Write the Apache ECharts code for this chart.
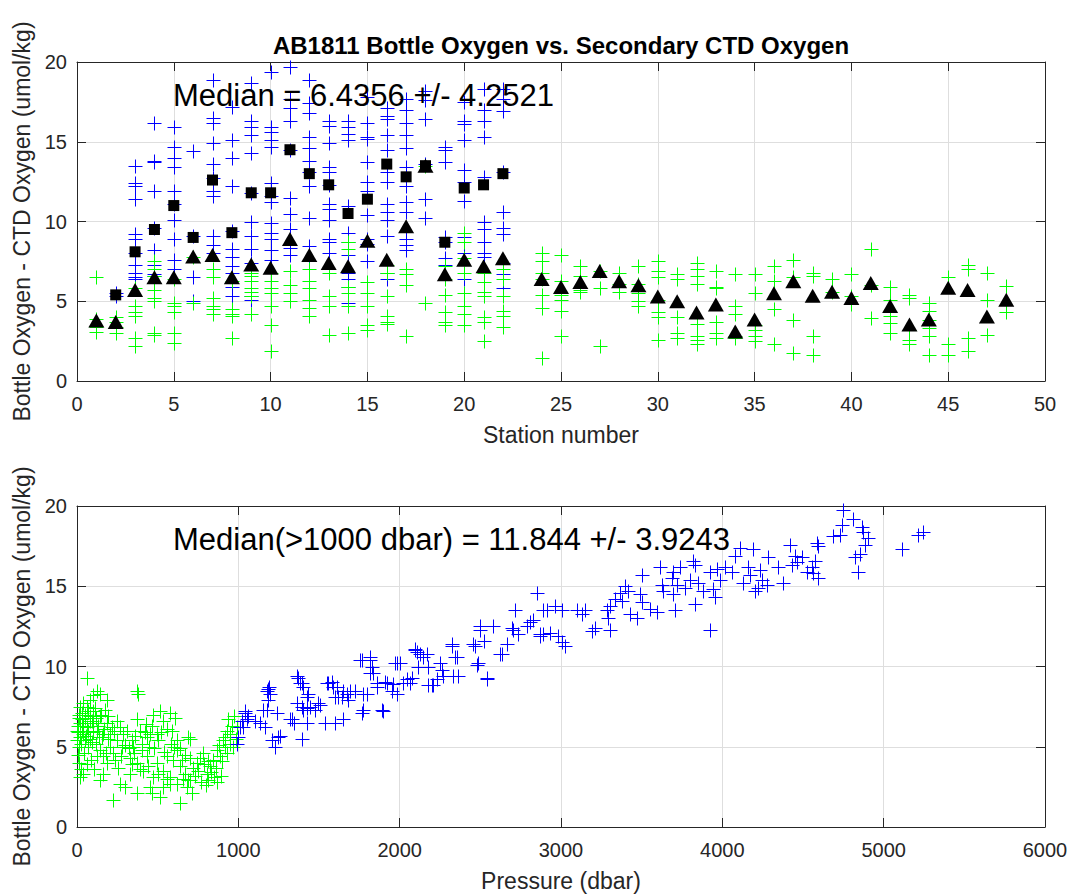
<!DOCTYPE html>
<html><head><meta charset="utf-8">
<script src="https://cdn.jsdelivr.net/npm/echarts/dist/echarts.min.js"></script>
<style>html,body{margin:0;padding:0;background:#fff}#c{width:1072px;height:894px}</style>
</head><body><div id="c"></div><script>
// ---------------- DATA ----------------
const titleText = 'AB1811 Bottle Oxygen vs. Secondary CTD Oxygen';
const topMedianText = 'Median = 6.4356 +/- 4.2521';
const bottomMedianText = 'Median(>1000 dbar) = 11.844 +/- 3.9243';
const yLabel = 'Bottle Oxygen - CTD Oxygen (umol/kg)';
const topXLabel = 'Station number';
const bottomXLabel = 'Pressure (dbar)';

const stations = [1,2,3,4,5,6,7,8,9,10,11,12,13,14,15,16,17,18,19,20,21,22,24,25,26,27,28,29,30,31,32,33,34,35,36,37,38,39,40,41,42,43,44,45,46,47,48];

// deep bottles (blue) per station, parallel to stations
const stationBlue = [
  [], [5.5,5.3],
  [13.5,12.4,12.2,11.4,9.2,8.9,8.0,7.3,6.8,6.5,6.4],
  [16.2,13.8,13.7,11.9,9.6,8.2,7.3,6.7,6.6],
  [15.9,14.7,14.0,13.4,11.9,11.1,10.1,8.9,7.6,7.0],
  [14.4,9.1,6.5,5.0],
  [18.9,16.5,16.2,14.9,13.6,12.7,11.9,11.6,9.1,8.5,8.0],
  [17.2,15.1,14.0,12.2,9.4,8.3,7.8,7.2,6.8,5.9,5.3],
  [18.7,16.3,15.9,15.4,14.3,11.8,10.0,9.1,8.3,7.4,5.3,5.1],
  [19.4,15.9,15.6,15.1,14.7,12.4,11.6,11.2,9.9,9.3,8.9,8.2,7.6],
  [19.7,17.7,17.1,16.3,14.5,11.5,10.5,9.5,8.35,7.9],
  [18.9,17.4,16.8,15.3,14.6,13.8,13.1,12.2,10.2,8.45,7.5],
  [16.3,16.0,14.9,13.4,13.1,12.3,11.1,10.8,10.1,8.9,8.7,8.0],
  [16.3,15.9,15.5,15.1,11.0,9.3,8.7,7.9,6.8,6.4,5.9,4.9],
  [17.8,16.2,15.3,15.2,13.7,12.5,11.9,10.4,8.9,8.6,7.5],
  [17.1,16.6,16.4,15.4,14.5,13.1,12.5,11.1,10.6,10.1,9.1,6.8,6.4],
  [17.7,17.0,16.2,15.4,14.6,13.4,12.2,11.2,10.6,8.9,8.5,8.2],
  [18.2,17.6,16.4,13.6,11.4,10.2],
  [14.7,14.5,13.7,9.0,8.7,7.7,7.3],
  [17.5,16.3,16.1,15.1,13.2,12.5,11.3,9.0,8.0,6.4],
  [18.3,17.0,16.3,15.3,12.8,10.0,9.5,8.7,8.0,7.8],
  [18.3,17.7,16.9,13.1,10.6,9.6,9.2,7.4,6.7,5.8],
  [],[],[],[],[],[],[],[],[],[],[],[],[],[],[],[],[],[],[],[],[],[],[],[],[]
];

// shallow bottles (green) per station, parallel to stations
const stationGreen = [
  [6.5,3.9,3.4,3.1], [4.0,3.7,3.4,3.0], [5.8,4.7,4.3,4.1,2.7,2.2],
  [7.5,7.0,6.6,5.7,5.2,5.0,3.0,2.9], [6.4,4.9,4.7,4.3,3.0,2.4], [7.8,4.9],
  [7.0,6.5,5.2,4.7,4.5,4.2], [6.3,4.5,4.2,4.1,2.7], [6.8,6.6,6.3,5.8,5.6,5.3,4.2],
  [6.8,6.3,5.8,5.5,4.7,3.5,1.9], [6.9,6.0,5.5,5.0], [7.0,6.3,5.8,5.1,4.6,4.1],
  [6.8,5.3,4.7,2.9], [8.7,8.3,5.9,5.5,4.7,3.0], [6.2,5.5,4.7,3.5,3.2],
  [7.3,6.8,5.3,4.1,3.7,3.6], [7.0,6.7,6.0,2.8], [13.5,4.9],
  [7.2,6.4,5.4,4.3,3.7,3.5], [9.3,8.7,7.7,6.8,5.5,4.7,4.2,3.5], [6.8,6.2,5.6,5.3,4.0,3.7,2.5],
  [7.0,6.4,5.3,4.4,4.1,3.4],
  [8.0,7.5,6.8,6.4,5.4,4.6,1.45], [7.9,6.3,5.4,5.1,4.4,2.8], [7.2,6.6,5.7,5.6],
  [6.9,5.8,2.2], [6.8,6.1,5.6], [7.2,6.1,5.5,5.0,4.7], [7.5,6.9,6.5,5.1,4.3,4.0,2.6],
  [6.7,6.4,4.0,3.0,2.7], [7.4,7.0,6.6,6.1,3.6,2.8,2.6,2.3], [6.9,5.9,5.8,3.7,3.0,2.7],
  [6.7,4.7,4.2,2.8,2.7], [6.7,5.5,3.5,3.2,2.8,2.5], [7.2,6.3,4.5,2.3],
  [7.6,6.5,3.85,1.75], [6.8,6.6,2.8,1.6], [6.4,5.6], [6.7,5.3,4.8],
  [8.25,6.0,3.95], [5.9,5.1,4.05,3.65,3.0], [5.4,5.2,3.2,2.6,2.3],
  [4.9,4.4,3.85,3.3,2.8,1.65], [6.5,2.3,1.65], [7.3,7.0,2.7,1.9],
  [6.8,5.1,2.9], [5.95,4.3]
];

// black squares (deep) and triangles (shallow) per station
const squareStations = [2,3,4,5,6,7,8,9,10,11,12,13,14,15,16,17,18,19,20,21,22];
const squareValues = [5.4,8.1,9.5,11.0,9.0,12.6,9.3,11.8,11.8,14.5,13.0,12.3,10.5,11.4,13.6,12.8,13.5,8.7,12.1,12.3,13.0];
const triangleValues = [3.8,3.7,5.7,6.5,6.5,7.8,7.9,6.5,7.3,7.1,8.9,7.9,7.4,7.2,8.8,7.6,9.7,13.5,6.7,7.6,7.2,7.7,
  6.4,5.9,6.2,6.9,6.25,6.0,5.3,5.0,4.3,4.8,3.1,3.85,5.5,6.25,5.35,5.6,5.2,6.15,4.7,3.55,3.85,5.85,5.7,4.05,5.1];

// bottom panel: [pressure dbar, difference]
const shallowPairs = [
  [60,9.3],[122,8.5],[143,8.3],[100,8.2],[184,7.9],[370,8.5],[380,8.3],[576,7.1],[607,6.8],[514,7.2],[473,7.0],[463,6.3],
  [494,5.8],[504,5.4],[690,5.6],[700,5.5],[432,5.6],[452,5.8],[370,6.7],[390,6.0],[339,5.4],[349,5.0],[267,6.25],[287,5.8],
  [246,5.4],[205,5.0],[225,4.6],[163,4.4],[184,4.0],[29,6.7],[39,6.3],[0,6.0],[19,5.6],[50,5.4],[70,5.0],[10,5.0],[81,6.9],
  [101,6.5],[122,6.0],[153,5.6],[60,7.5],[39,7.7],[81,7.9],[101,7.2],[143,6.9],[184,6.5],[205,5.8],[5,6.3],[0,5.4],[19,7.5],[29,7.1],
  [19,3.1],[39,3.3],[143,2.9],[163,3.3],[225,1.7],[267,2.7],[298,2.5],[370,2.1],[452,2.5],[463,2.1],[514,1.9],[535,2.5],
  [576,2.7],[638,1.5],[680,2.5],[711,2.1],[700,2.9],[370,4.0],[390,3.6],[329,3.3],[432,4.4],[494,4.0],[556,4.4],[597,4.2],
  [618,4.8],[638,3.8],[669,3.3],[690,2.9],[742,4.0],[783,4.6],[804,3.3],[814,2.9],[824,3.8],[866,4.8],[886,4.4],[907,5.4],
  [928,6.0],[938,6.7],[948,5.8],[969,5.0],[928,4.6],[473,3.1],[535,3.5],[576,3.1],[618,2.7],
  [10,7.0],[20,6.5],[30,6.0],[40,5.8],[50,6.8],[60,6.2],[70,7.2],[80,5.5],[90,6.6],[100,5.9],[110,7.4],[120,5.2],[130,6.3],
  [140,4.8],[150,7.0],[160,5.8],[170,6.1],[180,4.6],[195,5.5],[215,6.2],[235,4.2],[255,3.7],[275,4.4],[300,5.1],[320,4.9],
  [340,3.9],[360,5.7],[400,4.8],[410,3.5],[420,5.9],[440,3.8],[480,4.9],[500,3.3],[520,5.9],[540,4.7],[560,3.0],[590,6.0],
  [620,5.4],[650,4.2],[660,3.0],[720,3.7],[730,3.2],[760,4.3],[790,3.9],[800,2.6],[840,4.2],[850,3.1],[870,2.8],[900,4.1],
  [915,5.0],[960,6.3],[975,6.9],[985,5.5],[5,4.5],[15,4.0],[25,3.6],[45,4.6],[65,3.9],[85,4.2],[105,3.6],[125,4.4],[8,5.9],
  [12,6.8],[22,5.2],[33,6.5],[48,7.0],[55,5.7],[68,6.0],[78,6.6],[92,5.3],[115,6.8],[135,5.6],[175,7.3],[195,6.9],[230,6.0],
  [250,6.6],[280,5.0],[310,6.0],[330,4.3],[355,4.6],[405,5.2],[425,6.4],[445,5.0],[530,6.6],[560,6.1],[580,5.2],[600,5.0],
  [640,4.9],[670,4.5],[700,4.3],[750,3.5],[770,2.8],[810,4.1],[830,3.4],[860,3.7],[880,5.1],[895,3.2],[920,5.6],[950,5.2],[990,6.2]
];
const deepPairs = [
  [990,5.2],[1000,5.6],[1010,6.25],[1020,6.6],[1031,6.25],[1041,7.2],[1052,6.7],[1041,7.1],[1060,6.9],[1103,6.6],[1134,6.5],
  [1155,7.3],[1165,6.25],[1176,8.5],[1186,8.6],[1196,8.3],[1190,8.7],[1186,7.9],[1176,7.3],[1207,5.4],[1227,5.0],[1238,7.1],
  [1248,5.6],[1258,5.7],[1320,6.7],[1330,6.7],[1345,6.5],[1362,7.7],[1362,9.4],[1372,9.3],[1382,8.95],[1393,8.95],[1400,8.7],
  [1393,7.5],[1403,7.3],[1424,8.1],[1434,8.3],[1424,7.4],[1424,6.5],[1393,5.5],[1445,7.5],[1475,7.3],[1496,7.7],[1506,7.6],
  [1537,6.5],[1548,8.95],[1558,8.95],[1579,9.05],[1589,8.7],[1599,8.1],[1599,6.5],[1610,8.75],[1620,8.1],[1640,8.1],[1651,6.7],
  [1651,8.5],[1672,8.3],[1680,7.9],[1692,8.5],[1723,8.5],[1754,10.4],[1764,7.1],[1775,7.3],[1764,10.4],[1775,8.3],[1795,8.3],
  [1816,10.4],[1816,10.6],[1826,10.0],[1816,9.6],[1837,9.6],[1857,8.75],[1857,9.0],[1888,7.3],[1899,7.2],[1909,9.05],[1919,8.95],
  [1950,8.5],[1960,8.9],[1971,10.2],[1981,10.2],[1981,8.3],[2000,10.2],[2023,8.95],[2043,9.2],[2064,9.0],[2074,9.3],[2095,11.1],
  [2095,11.0],[2105,10.9],[2116,10.0],[2126,10.8],[2147,10.6],[2167,10.8],[2178,10.0],[2178,8.85],[2198,8.85],[2209,8.85],
  [2230,9.2],[2250,10.2],[2260,9.8],[2270,9.4],[2322,11.3],[2322,11.4],[2332,9.4],[2343,10.6],[2353,10.6],[2364,9.4],[2457,11.4],
  [2467,11.3],[2477,10.1],[2488,10.2],[2498,12.3],[2498,12.5],[2520,11.6],[2539,9.3],[2539,9.2],[2581,12.5],[2622,10.8],
  [2632,10.8],[2663,11.4],[2694,12.4],[2705,12.3],[2715,13.5],[2736,12.0],[2787,12.5],[2808,12.8],[2829,12.9],[2849,14.6],
  [2870,12.0],[2870,11.9],[2891,13.5],[2891,12.0],[2911,13.5],[2932,12.1],[2960,13.8],
  [2984,11.9],[3004,13.5],[3004,11.5],[3025,11.3],[3097,13.5],[3128,13.3],[3150,13.5],[3190,12.2],[3211,12.4],[3283,13.5],
  [3304,13.8],[3294,13.0],[3304,12.3],[3335,14.2],[3366,14.6],[3376,14.1],[3397,15.0],[3418,14.7],[3428,13.3],[3469,13.0],
  [3490,14.5],[3500,14.0],[3500,15.7],[3552,13.6],[3593,13.4],[3614,16.2],[3624,15.1],[3634,14.7],[3686,15.5],[3696,15.9],
  [3696,14.5],[3707,13.5],[3717,15.1],[3738,16.2],[3768,14.9],[3800,15.4],[3820,16.6],[3831,16.3],[3831,13.9],[3851,15.2],
  [3882,14.7],[3924,12.3],[3924,15.9],[3945,14.8],[3955,14.3],[3965,16.1],[3986,15.4],[4017,16.2],[4058,15.9],[4079,16.9],
  [4110,17.4],[4131,15.2],[4162,16.2],[4172,15.7],[4192,17.3],[4203,14.7],[4223,14.9],[4234,16.0],[4244,15.4],[4275,15.1],
  [4285,16.8],[4347,16.2],[4378,15.2],[4419,17.6],[4429,16.3],[4451,16.9],[4461,16.5],[4492,16.8],[4523,15.9],[4554,16.2],
  [4564,15.8],[4574,16.6],[4585,17.7],[4595,17.5],[4595,15.5],[4688,18.1],[4729,18.2],[4740,18.8],[4750,19.75],[4812,19.2],
  [4822,16.8],[4842,15.9],[4852,17.0],[4864,18.7],[4874,18.4],[4884,17.6],[4905,18.0],[5112,17.3],[5215,18.2],[5246,18.4]
];

// ---------------- BUILD ----------------
const topBluePts = [], topGreenPts = [];
stations.forEach((s, i) => {
  stationBlue[i].forEach(v => topBluePts.push([s, v]));
  stationGreen[i].forEach(v => topGreenPts.push([s, v]));
});
const squarePts = squareStations.map((s, i) => [s, squareValues[i]]);
const trianglePts = stations.map((s, i) => [s, triangleValues[i]]);

const INK = '#262626';
const FONT = '"Liberation Sans", Arial, Helvetica, sans-serif';
const HALF = 7;

function mainX(grid, max, interval, name) {
  return {
    type: 'value', gridIndex: grid, min: 0, max: max, interval: interval, position: 'bottom',
    axisLine: {show: true, onZero: false, lineStyle: {color: INK, width: 1}},
    axisTick: {show: true, inside: true, length: 9, lineStyle: {color: INK}},
    axisLabel: {show: true, color: INK, fontSize: 20, fontFamily: FONT, margin: 13, formatter: v => String(v)},
    splitLine: {show: true, lineStyle: {color: '#dedede', width: 1}},
    name: name, nameLocation: 'middle', nameGap: 42,
    nameTextStyle: {color: INK, fontSize: 23, fontFamily: FONT}
  };
}
function mirrorX(grid, max, interval) {
  return {
    type: 'value', gridIndex: grid, min: 0, max: max, interval: interval, position: 'top',
    axisLine: {show: true, onZero: false, lineStyle: {color: INK, width: 1}},
    axisTick: {show: true, inside: true, length: 9, lineStyle: {color: INK}},
    axisLabel: {show: false}, splitLine: {show: false}
  };
}
function mainY(grid) {
  return {
    type: 'value', gridIndex: grid, min: 0, max: 20, interval: 5, position: 'left',
    axisLine: {show: true, onZero: false, lineStyle: {color: INK, width: 1}},
    axisTick: {show: true, inside: true, length: 9, lineStyle: {color: INK}},
    axisLabel: {show: true, color: INK, fontSize: 20, fontFamily: FONT, margin: 10, formatter: v => String(v)},
    splitLine: {show: true, lineStyle: {color: '#dedede', width: 1}},
    name: yLabel, nameLocation: 'middle', nameGap: 36, nameRotate: 90,
    nameTextStyle: {color: INK, fontSize: 23, fontFamily: FONT}
  };
}
function mirrorY(grid) {
  return {
    type: 'value', gridIndex: grid, min: 0, max: 20, interval: 5, position: 'right',
    axisLine: {show: true, onZero: false, lineStyle: {color: INK, width: 1}},
    axisTick: {show: true, inside: true, length: 9, lineStyle: {color: INK}},
    axisLabel: {show: false}, splitLine: {show: false}
  };
}
// "+" markers drawn through the axes with a custom series (one mark per data point)
function plusSeries(data, color, xi, yi, z) {
  return {
    type: 'custom', coordinateSystem: 'cartesian2d', xAxisIndex: xi, yAxisIndex: yi, data: data, z: z,
    encode: {x: 0, y: 1}, silent: true, animation: false, clip: false,
    renderItem: function (params, api) {
      const p = api.coord([api.value(0), api.value(1)]);
      const x = Math.round(p[0]) + 0.5, y = Math.round(p[1]) + 0.5;
      return {
        type: 'path',
        shape: {pathData: 'M' + (x - HALF) + ',' + y + 'H' + (x + HALF) + 'M' + x + ',' + (y - HALF) + 'V' + (y + HALF)},
        style: {stroke: color, lineWidth: 1, fill: 'none', opacity: 1}
      };
    }
  };
}

const chart = echarts.init(document.getElementById('c'), null, {renderer: 'svg'});
chart.setOption({
  backgroundColor: '#ffffff',
  animation: false,
  grid: [
    {left: 77, top: 62, width: 968, height: 319},
    {left: 77, top: 506, width: 968, height: 321}
  ],
  xAxis: [mainX(0, 50, 5, topXLabel), mirrorX(0, 50, 5), mainX(1, 6000, 1000, bottomXLabel), mirrorX(1, 6000, 1000)],
  yAxis: [mainY(0), mirrorY(0), mainY(1), mirrorY(1)],
  series: [
    plusSeries(topBluePts, '#0000ff', 0, 0, 2),
    plusSeries(topGreenPts, '#00ff00', 0, 0, 3),
    {type: 'scatter', data: squarePts, xAxisIndex: 0, yAxisIndex: 0, symbol: 'rect', symbolSize: 11,
     itemStyle: {color: '#000000', opacity: 1}, z: 4, silent: true},
    {type: 'scatter', data: trianglePts, xAxisIndex: 0, yAxisIndex: 0, symbol: 'triangle', symbolSize: [16, 14],
     itemStyle: {color: '#000000', opacity: 1}, z: 5, silent: true},
    plusSeries(shallowPairs, '#00ff00', 2, 2, 2),
    plusSeries(deepPairs, '#0000ff', 2, 2, 3)
  ],
  graphic: [
    {type: 'text', x: 561, y: 45, z: 100, style: {text: titleText, fill: '#000', font: 'bold 24px ' + FONT, align: 'center', verticalAlign: 'middle'}},
    {type: 'text', x: 173, y: 95, z: 100, style: {text: topMedianText, fill: '#000', font: '31px ' + FONT, align: 'left', verticalAlign: 'middle'}},
    {type: 'text', x: 173, y: 539, z: 100, style: {text: bottomMedianText, fill: '#000', font: '31px ' + FONT, align: 'left', verticalAlign: 'middle'}}
  ]
});
</script></body></html>
